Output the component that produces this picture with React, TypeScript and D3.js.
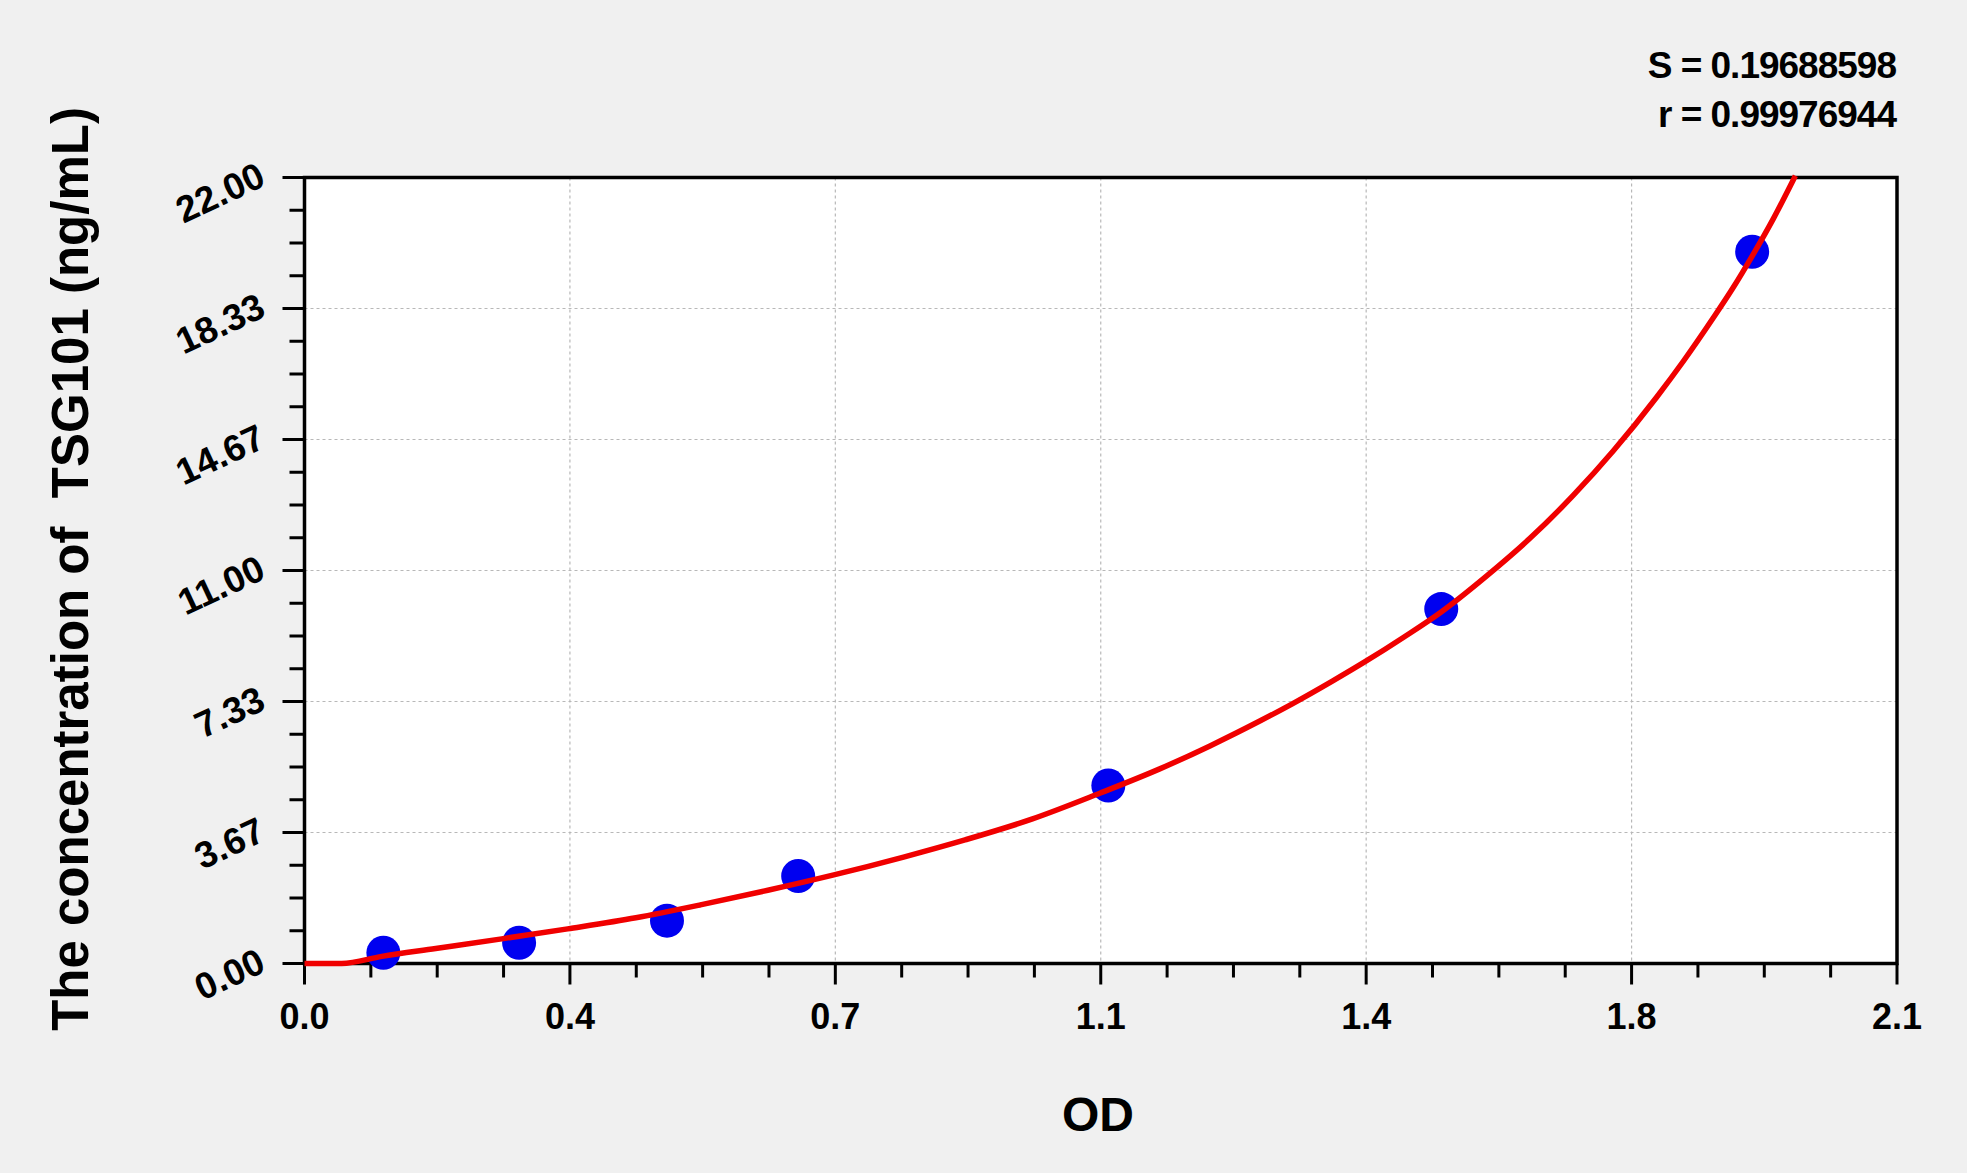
import React, { useEffect } from "react";
import * as d3 from "d3";

// Standard points (OD, concentration)
const stdOD = [0.104, 0.283, 0.478, 0.651, 1.06, 1.499, 1.909];
const stdConc = [0.3, 0.58, 1.2, 2.45, 4.98, 9.92, 19.92];

// Fitted curve
const fitOD = [0, 0.049, 0.102, 0.173, 0.26, 0.347, 0.437, 0.522, 0.611, 0.698, 0.79, 0.871, 0.959, 1.048, 1.127, 1.194, 1.261, 1.302, 1.356, 1.398, 1.45, 1.499, 1.559, 1.616, 1.673, 1.726, 1.783, 1.818, 1.858, 1.884, 1.909, 1.937, 1.966];
const fitConc = [0, 0, 0.2, 0.42, 0.69, 0.97, 1.28, 1.64, 2.05, 2.48, 2.98, 3.46, 4.04, 4.76, 5.44, 6.09, 6.8, 7.26, 7.91, 8.44, 9.14, 9.84, 10.85, 11.9, 13.1, 14.35, 15.85, 16.85, 18.08, 18.92, 19.8, 20.85, 22.05];

const xTickValues = [0, 0.35, 0.7, 1.05, 1.4, 1.75, 2.1];
const xTickLabels = ["0.0", "0.4", "0.7", "1.1", "1.4", "1.8", "2.1"];
const yTickValues = [0, 22 / 6, 44 / 6, 11, 88 / 6, 110 / 6, 22];
const yTickLabels = ["0.00", "3.67", "7.33", "11.00", "14.67", "18.33", "22.00"];
const statLines = ["S = 0.19688598", "r = 0.99976944"];
const xTitle = "OD";
const yTitle = "The concentration of  TSG101 (ng/mL)";

const W = 1967;
const H = 1173;
const FONT = "'Liberation Sans', Arial, Helvetica, sans-serif";

export default function App() {
  useEffect(() => {
    document.body.style.margin = "0";
    document.body.style.overflow = "hidden";
  }, []);

  const x = d3.scaleLinear().domain([0, 2.1]).range([304.5, 1897]);
  const y = d3.scaleLinear().domain([0, 22]).range([963.5, 177.5]);

  const xMinor: number[] = [];
  for (let i = 0; i < xTickValues.length - 1; i++) {
    const a = xTickValues[i], b = xTickValues[i + 1];
    for (let k = 1; k < 4; k++) xMinor.push(a + ((b - a) * k) / 4);
  }
  const yMinor: number[] = [];
  for (let i = 0; i < yTickValues.length - 1; i++) {
    const a = yTickValues[i], b = yTickValues[i + 1];
    for (let k = 1; k < 4; k++) yMinor.push(a + ((b - a) * k) / 4);
  }

  const fitData = fitOD.map((d, i) => [d, fitConc[i]] as [number, number]);
  const line = d3
    .line<[number, number]>()
    .x((d) => x(d[0]))
    .y((d) => y(d[1]))
    .curve(d3.curveMonotoneX);

  const [x0, x1] = x.range();
  const [y0, y1] = y.range();

  return (
    <svg width={W} height={H} style={{ display: "block", background: "#f0f0f0" }} fontFamily={FONT}>
      <rect x={0} y={0} width={W} height={H} fill="#f0f0f0" />
      <rect x={x0} y={y1} width={x1 - x0} height={y0 - y1} fill="#ffffff" />

      {/* grid */}
      {xTickValues.slice(1, -1).map((v, i) => (
        <line key={"gx" + i} x1={x(v)} x2={x(v)} y1={y1} y2={y0} stroke="#b8b8b8" strokeWidth={1.2} strokeDasharray="3,3" />
      ))}
      {yTickValues.slice(1, -1).map((v, i) => (
        <line key={"gy" + i} x1={x0} x2={x1} y1={y(v)} y2={y(v)} stroke="#b8b8b8" strokeWidth={1.2} strokeDasharray="3,3" />
      ))}

      {/* x ticks */}
      {xTickValues.map((v, i) => (
        <line key={"xt" + i} x1={x(v)} x2={x(v)} y1={y0} y2={y0 + 21} stroke="#000" strokeWidth={3} />
      ))}
      {xMinor.map((v, i) => (
        <line key={"xm" + i} x1={x(v)} x2={x(v)} y1={y0} y2={y0 + 14} stroke="#000" strokeWidth={3} />
      ))}
      {xTickValues.map((v, i) => (
        <text key={"xl" + i} x={x(v)} y={1029} textAnchor="middle" fontSize={36} fontWeight="bold" fill="#000">
          {xTickLabels[i]}
        </text>
      ))}

      {/* y ticks */}
      {yTickValues.map((v, i) => (
        <line key={"yt" + i} x1={x0 - 22} x2={x0} y1={y(v)} y2={y(v)} stroke="#000" strokeWidth={3} />
      ))}
      {yMinor.map((v, i) => (
        <line key={"ym" + i} x1={x0 - 15} x2={x0} y1={y(v)} y2={y(v)} stroke="#000" strokeWidth={3} />
      ))}
      {yTickValues.map((v, i) => (
        <text
          key={"yl" + i}
          transform={`translate(${x0 - 37},${y(v) + 7}) rotate(-25)`}
          textAnchor="end"
          fontSize={37}
          fontWeight="bold"
          fill="#000"
        >
          {yTickLabels[i]}
        </text>
      ))}

      {/* border */}
      <rect x={x0} y={y1} width={x1 - x0} height={y0 - y1} fill="none" stroke="#000" strokeWidth={3.5} />

      {/* points */}
      {stdOD.map((d, i) => (
        <circle key={"p" + i} cx={x(d)} cy={y(stdConc[i])} r={17} fill="#0000f0" />
      ))}

      {/* fit curve */}
      <path d={line(fitData) || ""} fill="none" stroke="#f00000" strokeWidth={5.5} strokeLinejoin="round" />

      {/* titles */}
      <text x={1098} y={1131} textAnchor="middle" fontSize={48} fontWeight="bold" fill="#000">
        {xTitle}
      </text>
      <text
        transform={`translate(88,569) rotate(-90)`}
        textAnchor="middle"
        fontSize={51}
        fontWeight="bold"
        fill="#000"
        style={{ whiteSpace: "pre" }}
      >
        {yTitle}
      </text>

      {/* stats */}
      {statLines.map((s, i) => (
        <text key={"s" + i} x={1896} y={78 + i * 48.5} textAnchor="end" fontSize={37} fontWeight="bold" letterSpacing={-1} fill="#000">
          {s}
        </text>
      ))}
    </svg>
  );
}
